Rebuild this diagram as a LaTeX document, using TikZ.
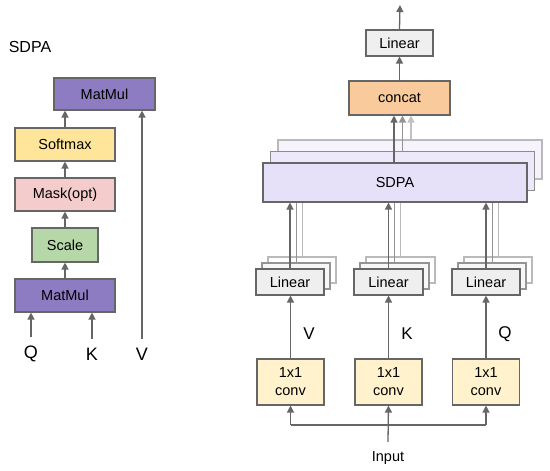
\documentclass[tikz,border=0pt]{standalone}
\usepackage{fontspec}
\setmainfont{Liberation Sans}
\usetikzlibrary{arrows.meta}

\definecolor{edge}{HTML}{666666}
\definecolor{mmul}{HTML}{8E7CC3}
\definecolor{soft}{HTML}{FFE599}
\definecolor{mask}{HTML}{F4CCCC}
\definecolor{scale}{HTML}{B6D7A8}
\definecolor{lin}{HTML}{EFEFEF}
\definecolor{cat}{HTML}{F9CB9C}
\definecolor{sdpa}{HTML}{E6E0F8}
\definecolor{sdpab}{HTML}{EDE8FA}
\definecolor{sdpac}{HTML}{F6F3FD}
\definecolor{conv}{HTML}{FFF2CC}

\begin{document}
\begin{tikzpicture}[x=1pt,y=-1pt,
  box/.style={draw=edge,line width=1.1pt,inner sep=0pt,font=\fontsize{14.5}{17}\selectfont},
  lbl/.style={inner sep=9pt,font=\fontsize{18}{20}\selectfont},
  arr/.style={draw=edge,line width=1.3pt,-{Triangle[width=7pt,length=7pt]}},
  ghost/.style={draw=edge!#1,line width=1pt}]
\useasboundingbox (0,0) rectangle (550,471);

% left: SDPA
\node[font=\fontsize{16}{19}\selectfont] (title) at (30,47) {SDPA};
\node[box,fill=mmul,minimum width=101pt,minimum height=32pt] (mmtop) at (104.5,94) {MatMul};
\node[box,fill=soft,minimum width=100pt,minimum height=33pt] (soft) at (65,144.5) {Softmax};
\node[box,fill=mask,minimum width=100pt,minimum height=33pt] (mask) at (65,194.5) {Mask(opt)};
\node[box,fill=scale,minimum width=66pt,minimum height=34pt] (scale) at (65,245) {Scale};
\node[box,fill=mmul,minimum width=100pt,minimum height=33pt] (mmbot) at (65,295.5) {MatMul};
\node[lbl] (q) at (31,354) {Q};
\node[lbl] (k) at (92,354) {K};
\node[lbl] (v) at (142,354) {V};
\draw[arr] (q.north) -- (q.north |- mmbot.south);
\draw[arr] (k.north) -- (k.north |- mmbot.south);
\draw[arr] (v.north) -- (v.north |- mmtop.south);
\draw[arr] (mmbot) -- (scale);
\draw[arr] (scale) -- (mask);
\draw[arr] (mask) -- (soft);
\draw[arr] (soft.north) -- (soft.north |- mmtop.south);

% right: multi-head
\coordinate (out) at (400,5);
\node[box,fill=lin,minimum width=67pt,minimum height=26pt] (lout) at (399.5,43) {Linear};
\node[box,fill=cat,minimum width=101pt,minimum height=34pt] (cat) at (399.5,98) {concat};
\node[box,draw=edge!45,fill=sdpac,minimum width=264pt,minimum height=39pt] (sdpa3) at (410,159.5) {};
\node[box,draw=edge!75,fill=sdpab,minimum width=264pt,minimum height=39pt] (sdpa2) at (402.5,171) {};
\node[box,fill=sdpa,minimum width=264pt,minimum height=39pt] (sdpa1) at (395,182.5) {SDPA};
\draw[arr] (lout.north) -- (out);
\draw[arr] (cat) -- (lout);
\draw[arr] ([xshift=-1pt]sdpa1.north) -- ([xshift=-1pt]sdpa1.north |- cat.south);
\draw[arr,draw=edge!70] (sdpa2.north) -- (sdpa2.north |- cat.south);
\draw[arr,draw=edge!40] ([xshift=1pt]sdpa3.north) -- ([xshift=1pt]sdpa3.north |- cat.south);

% linear layers
\node[box,draw=edge!45,fill=white,minimum width=68pt,minimum height=26pt] (linv3) at (302,270) {};
\node[box,draw=edge!70,fill=lin!50,minimum width=68pt,minimum height=26pt] (linv2) at (296,276) {};
\node[box,fill=lin,minimum width=68pt,minimum height=26pt] (linv) at (290,282) {Linear};
\node[box,draw=edge!45,fill=white,minimum width=69pt,minimum height=26pt] (link3) at (400.5,270) {};
\node[box,draw=edge!70,fill=lin!50,minimum width=69pt,minimum height=26pt] (link2) at (394.5,276) {};
\node[box,fill=lin,minimum width=69pt,minimum height=26pt] (link) at (388.5,282) {Linear};
\node[box,draw=edge!45,fill=white,minimum width=68pt,minimum height=26pt] (linq3) at (498,270) {};
\node[box,draw=edge!70,fill=lin!50,minimum width=68pt,minimum height=26pt] (linq2) at (492,276) {};
\node[box,fill=lin,minimum width=68pt,minimum height=26pt] (linq) at (486,282) {Linear};
\draw[ghost=45] (linv3.north) -- (linv3.north |- sdpa1.south);
\draw[ghost=70] (linv2.north) -- (linv2.north |- sdpa1.south);
\draw[arr] (linv.north) -- (linv.north |- sdpa1.south);
\draw[ghost=45] (link3.north) -- (link3.north |- sdpa1.south);
\draw[ghost=70] (link2.north) -- (link2.north |- sdpa1.south);
\draw[arr] (link.north) -- (link.north |- sdpa1.south);
\draw[ghost=45] (linq3.north) -- (linq3.north |- sdpa1.south);
\draw[ghost=70] (linq2.north) -- (linq2.north |- sdpa1.south);
\draw[arr] (linq.north) -- (linq.north |- sdpa1.south);

% 1x1 convs
\node[box,fill=conv,minimum width=67pt,minimum height=46pt,align=center,font=\fontsize{14.5}{18}\selectfont] (convv) at (290.5,382) {1x1\\conv};
\node[box,fill=conv,minimum width=67pt,minimum height=46pt,align=center,font=\fontsize{14.5}{18}\selectfont] (convk) at (388.5,382) {1x1\\conv};
\node[box,fill=conv,minimum width=67pt,minimum height=46pt,align=center,font=\fontsize{14.5}{18}\selectfont] (convq) at (486,382) {1x1\\conv};
\node[font=\fontsize{17}{20}\selectfont] (vl) at (309,334) {V};
\node[font=\fontsize{17}{20}\selectfont] (kl) at (407,334) {K};
\node[font=\fontsize{17}{20}\selectfont] (ql) at (505,334) {Q};
\draw[arr] (convv.north) -- (convv.north |- linv.south);
\draw[arr] (convk.north) -- (convk.north |- link.south);
\draw[arr] (convq.north) -- (convq.north |- linq.south);

% input
\node[box,draw=none,inner sep=9pt] (input) at (388,458) {Input};
\coordinate (fork) at (388,425);
\draw[arr] (input.north) -- (convk.south);
\draw[draw=edge,line width=1.3pt] (fork -| convv.south) -- (fork -| convq.south);
\draw[arr] (fork -| convv.south) -- (convv.south);
\draw[arr] (fork -| convq.south) -- (convq.south);
\end{tikzpicture}
\end{document}
